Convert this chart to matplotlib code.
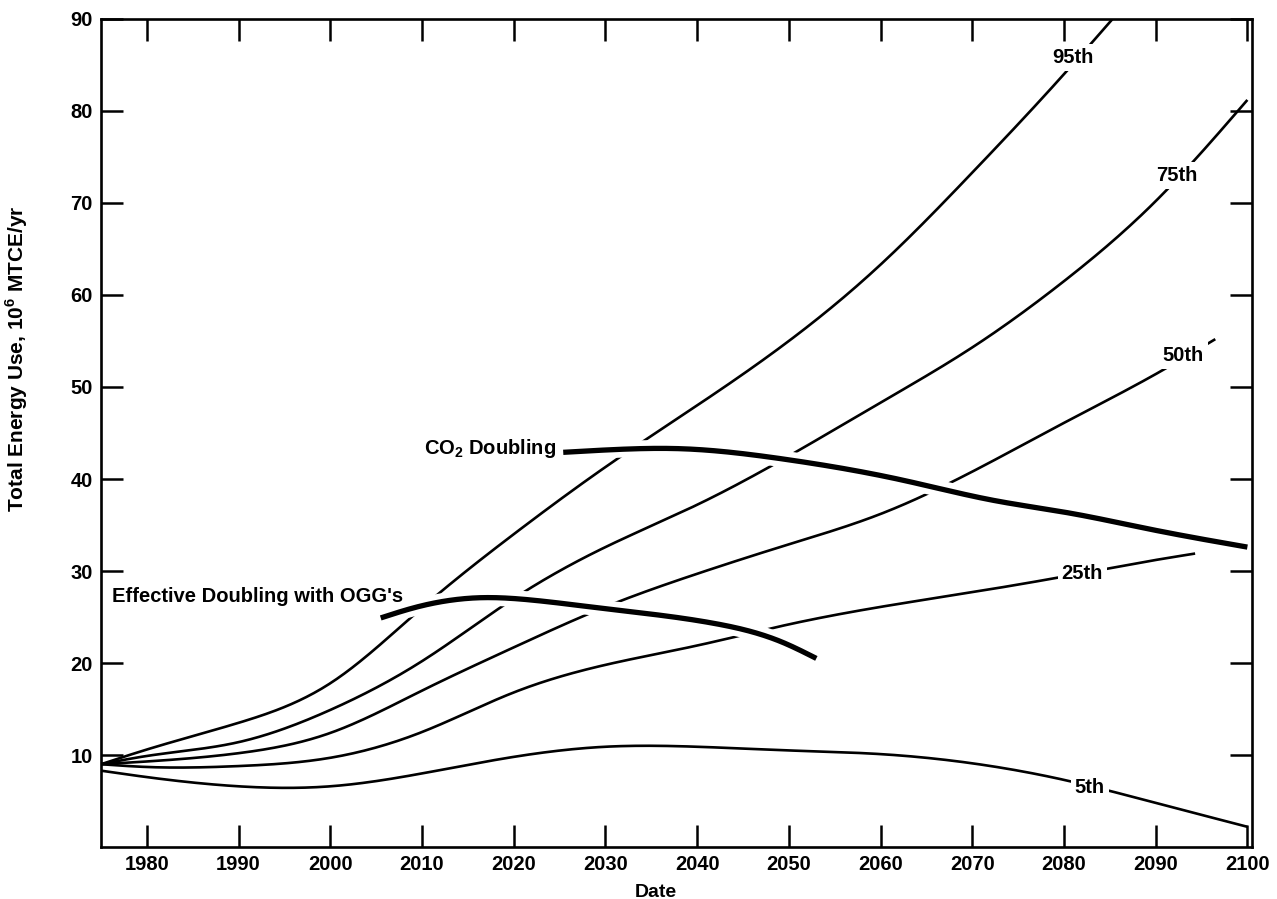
import numpy as np
import matplotlib
matplotlib.use("Agg")
import matplotlib.pyplot as plt
import matplotlib.patheffects as pe

plt.rcParams['font.family'] = ['Liberation Sans', 'DejaVu Sans']
plt.rcParams['font.weight'] = 'bold'
plt.rcParams['mathtext.fontset'] = 'custom'
plt.rcParams['mathtext.rm'] = 'Liberation Sans:bold'
plt.rcParams['mathtext.bf'] = 'Liberation Sans:bold'

# percentile curves, one value per decade
years = [1975, 1980, 1990, 2000, 2010, 2020, 2030, 2040, 2050, 2060, 2070, 2080, 2090, 2100]
p95 = [9.0, 10.6, 13.5, 17.8, 26.0, 34.0, 41.3, 48.0, 55.0, 63.3, 73.3, 84.0, None, None]
p75 = [9.0, 9.9, 11.4, 14.9, 20.2, 27.0, 32.6, 37.2, 42.5, 48.3, 54.3, 61.5, 70.2, 81.2]
p50 = [9.0, 9.3, 10.2, 12.4, 17.0, 21.7, 26.1, 29.7, 32.9, 36.2, 40.8, 46.1, 51.4, None]
p25 = [9.0, 8.7, 8.8, 9.7, 12.5, 16.8, 19.8, 21.9, 24.2, 26.1, 27.7, 29.4, 31.2, None]
p5 = [8.3, 7.6, 6.6, 6.6, 8.0, 9.8, 10.9, 10.9, 10.5, 10.1, 9.1, 7.3, 4.8, 2.2]

# end points where curves stop
p95_end = (2085.3, 90.0)
p50_end = (2096.5, 55.2)
p25_end = (2094.3, 31.9)

# thick "doubling" curves
eff_x = [2005.5, 2009.1, 2016.4, 2021.9, 2029.2, 2041.9, 2049.2, 2053.0]
eff_y = [24.9, 26.0, 27.1, 26.85, 26.0, 24.3, 22.3, 20.5]
co2_x = [2025.4, 2031.0, 2038.0, 2049.2, 2062.3, 2072.2, 2080.6, 2089.6, 2100.0]
co2_y = [42.9, 43.2, 43.3, 42.2, 39.9, 37.7, 36.3, 34.5, 32.6]

labels = [("95th", 2081.0, 85.8), ("75th", 2092.3, 73.0), ("50th", 2093.0, 53.4),
          ("25th", 2082.0, 29.7), ("5th", 2082.8, 6.5)]


def spline(xs, ys, n=400):
    # natural cubic spline through the read points
    xs = np.asarray(xs, float)
    ys = np.asarray(ys, float)
    k = len(xs)
    h = np.diff(xs)
    A = np.zeros((k, k))
    b = np.zeros(k)
    A[0, 0] = A[-1, -1] = 1
    for i in range(1, k - 1):
        A[i, i - 1] = h[i - 1]
        A[i, i] = 2 * (h[i - 1] + h[i])
        A[i, i + 1] = h[i]
        b[i] = 6 * ((ys[i + 1] - ys[i]) / h[i] - (ys[i] - ys[i - 1]) / h[i - 1])
    m = np.linalg.solve(A, b)
    t = np.linspace(xs[0], xs[-1], n)
    j = np.clip(np.searchsorted(xs, t) - 1, 0, k - 2)
    a = (xs[j + 1] - t) / h[j]
    c = (t - xs[j]) / h[j]
    y = (a * ys[j] + c * ys[j + 1]
         + ((a ** 3 - a) * m[j] + (c ** 3 - c) * m[j + 1]) * h[j] ** 2 / 6)
    return t, y


def series(ys, end=None):
    xs = [x for x, y in zip(years, ys) if y is not None]
    vs = [y for y in ys if y is not None]
    if end is not None:
        xs.append(end[0])
        vs.append(end[1])
    return spline(xs, vs)


fig = plt.figure(figsize=(12.77, 8.99), dpi=100)
ax = fig.add_axes([0.0791, 0.0578, 0.9013, 0.9211])

thin = dict(color='black', lw=1.9, solid_capstyle='butt', zorder=2)
for ys, end in [(p95, p95_end), (p75, None), (p50, p50_end), (p25, p25_end), (p5, None)]:
    x, y = series(ys, end)
    ax.plot(x, y, **thin)

halo = [pe.Stroke(linewidth=12, foreground='white'), pe.Normal()]
for xs, ys in [(eff_x, eff_y), (co2_x, co2_y)]:
    x, y = spline(xs, ys)
    ax.plot(x, y, color='black', lw=3.8, solid_capstyle='butt', zorder=3, path_effects=halo)

fs = 14.5
for txt, x, y in labels:
    ax.text(x, y, txt, ha='center', va='center', fontsize=fs, fontweight='bold', zorder=5,
            bbox=dict(boxstyle='square,pad=0.2', fc='white', ec='none'))

ax.text(2024.6, 43.3, r'CO$_\mathbf{2}$ Doubling', ha='right', va='center', fontsize=fs,
        fontweight='bold', zorder=5)
ax.text(1976.2, 27.2, "Effective Doubling with OGG's", ha='left', va='center', fontsize=fs,
        fontweight='bold', zorder=5)

ax.set_xlim(1975, 2100.5)
ax.set_ylim(0, 90)
ax.set_xticks(range(1980, 2101, 10))
ax.set_yticks(range(10, 91, 10))
ax.tick_params(direction='in', length=16, width=1.8, top=True, right=True,
               labelsize=fs, pad=6)
for lab in ax.get_xticklabels() + ax.get_yticklabels():
    lab.set_fontweight('bold')
for s in ax.spines.values():
    s.set_linewidth(1.9)

ax.set_xlabel('Date', fontsize=14, fontweight='bold', va='baseline')
ax.xaxis.set_label_coords(0.482, -0.060)
ax.set_ylabel(r'Total Energy Use, 10$^\mathbf{6}$ MTCE/yr', fontsize=15,
              fontweight='bold')
ax.yaxis.set_label_coords(-0.062, 0.59)

fig.savefig('out.png', dpi=100)
